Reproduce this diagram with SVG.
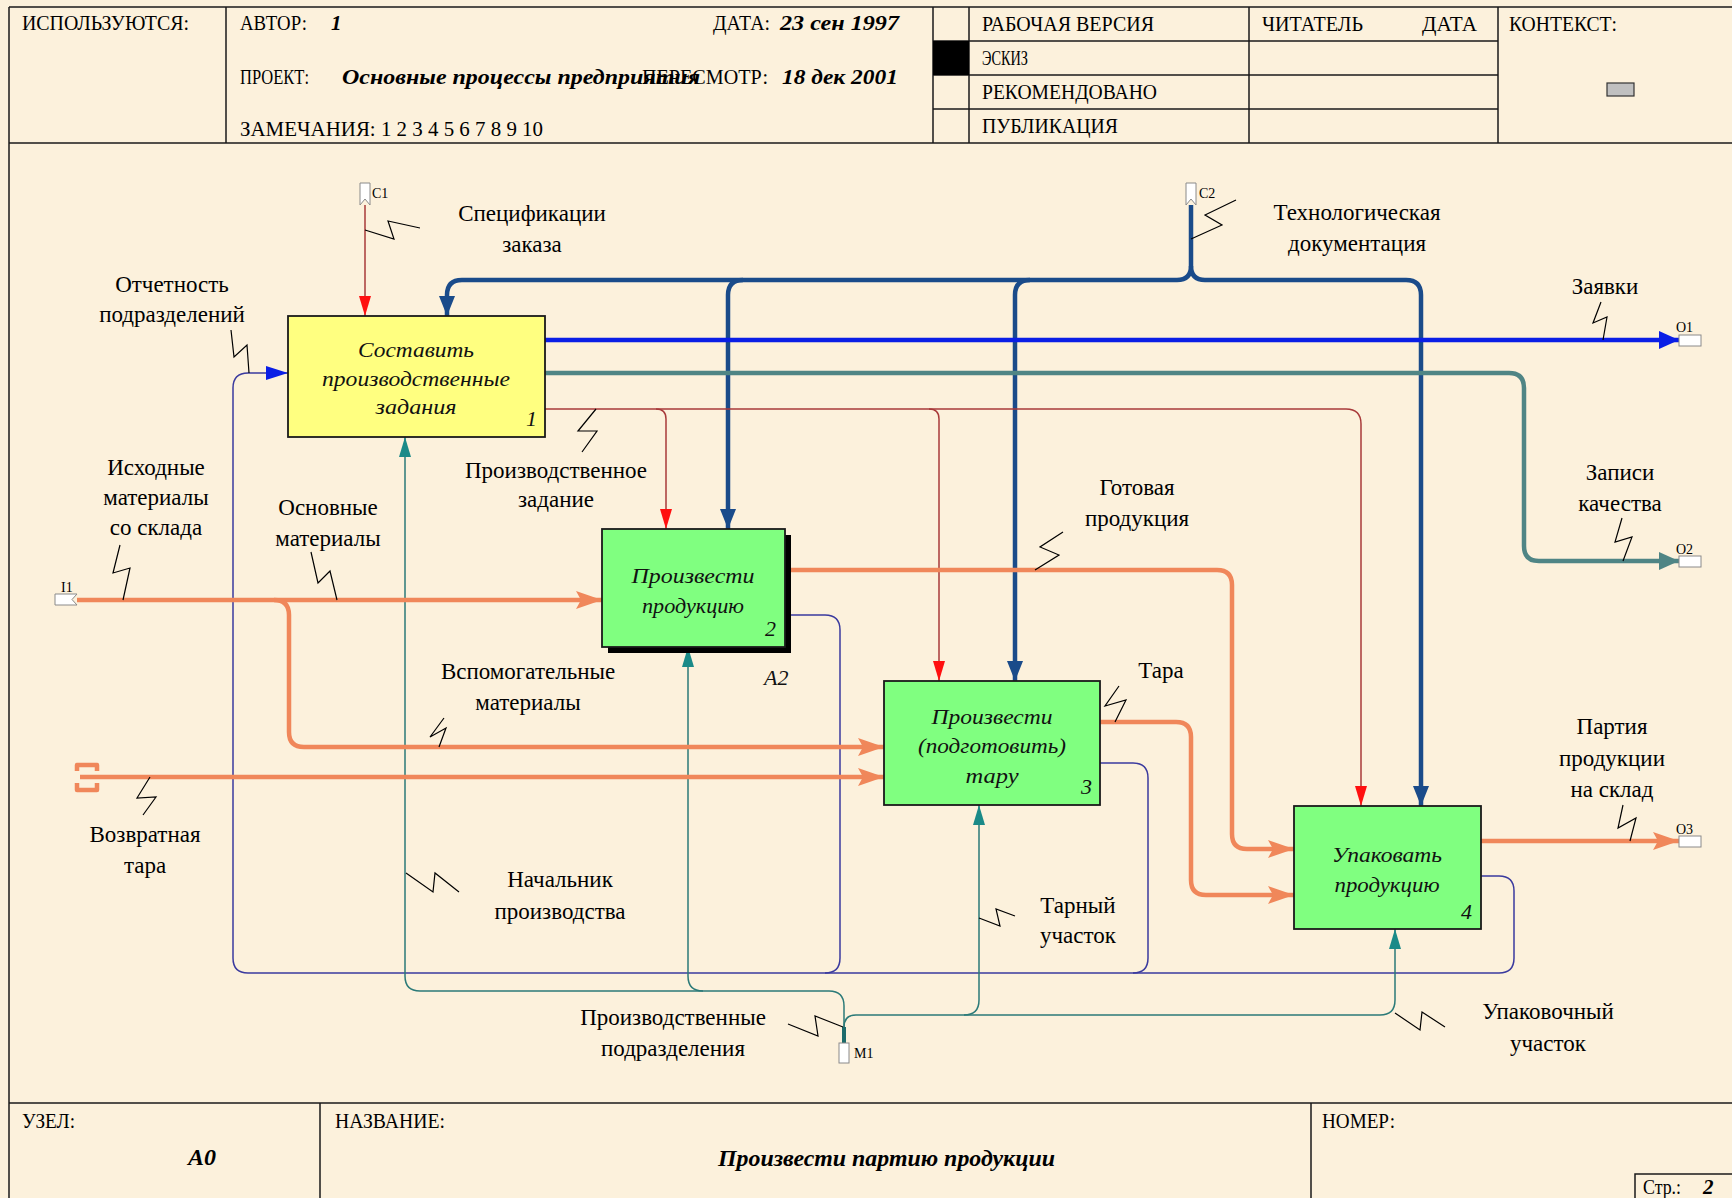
<svg xmlns="http://www.w3.org/2000/svg" width="1732" height="1198" viewBox="0 0 1732 1198">
<defs>
<style>
.hdr{font-family:"Liberation Serif","Times New Roman",serif;font-size:21px;fill:#000}
.bi{font-weight:bold;font-style:italic}
.lbl{font-family:"Liberation Serif","Times New Roman",serif;font-size:23px;text-anchor:middle;fill:#000}
.bt{font-family:"Liberation Serif","Times New Roman",serif;font-style:italic;font-size:22px;text-anchor:middle;fill:#111}
.num{font-family:"Liberation Serif","Times New Roman",serif;font-style:italic;font-size:22px;fill:#111}
.tag{font-family:"Liberation Serif","Times New Roman",serif;font-size:14px;fill:#000}
.frame{stroke:#1a1a1a;stroke-width:1.5;fill:none}
.sq{fill:none;stroke:#000;stroke-width:1.2}
.box{stroke:#1a1a1a;stroke-width:1.8}
.stub{fill:#fff;stroke:#8a8a8a;stroke-width:1}
.navy{fill:none;stroke:#1a4b8a;stroke-width:4.5}
.red{fill:none;stroke:#a83a3a;stroke-width:1.5}
.blue{fill:none;stroke:#0a1ee6;stroke-width:4.5}
.tealT{fill:none;stroke:#4f8585;stroke-width:4.5}
.orng{fill:none;stroke:#f0875a;stroke-width:4.5}
.fb{fill:none;stroke:#3a3a9e;stroke-width:1.5}
.mech{fill:none;stroke:#2b7a78;stroke-width:1.5}
</style>
<marker id="mRed" markerUnits="userSpaceOnUse" viewBox="0 0 20 12" refX="20" refY="6" markerWidth="20" markerHeight="12" orient="auto"><path d="M0,0 L20,6 L0,12 z" fill="#ff1010"/></marker>
<marker id="mNavy" markerUnits="userSpaceOnUse" viewBox="0 0 20 16" refX="20" refY="8" markerWidth="20" markerHeight="16" orient="auto"><path d="M0,0 L20,8 L0,16 z" fill="#1a4b8a"/></marker>
<marker id="mBlue" markerUnits="userSpaceOnUse" viewBox="0 0 20 18" refX="20" refY="9" markerWidth="20" markerHeight="18" orient="auto"><path d="M0,0 L20,9 L0,18 z" fill="#0a1ee6"/></marker>
<marker id="mBlueS" markerUnits="userSpaceOnUse" viewBox="0 0 22 14" refX="22" refY="7" markerWidth="22" markerHeight="14" orient="auto"><path d="M0,0 L22,7 L0,14 z" fill="#0a1ee6"/></marker>
<marker id="mTealT" markerUnits="userSpaceOnUse" viewBox="0 0 20 18" refX="20" refY="9" markerWidth="20" markerHeight="18" orient="auto"><path d="M0,0 L20,9 L0,18 z" fill="#4f8585"/></marker>
<marker id="mMech" markerUnits="userSpaceOnUse" viewBox="0 0 20 12" refX="20" refY="6" markerWidth="20" markerHeight="12" orient="auto"><path d="M0,0 L20,6 L0,12 z" fill="#1a8a88"/></marker>
<marker id="mOr" markerUnits="userSpaceOnUse" viewBox="0 0 26 18" refX="26" refY="9" markerWidth="26" markerHeight="18" orient="auto"><path d="M0,0 L26,9 L0,18 L5,9 z" fill="#f0875a"/></marker>
</defs>

<rect x="0" y="0" width="1732" height="1198" fill="#fcf1dc"/>

<g id="frame">
<path class="frame" d="M9,7 L1732,7 M9,7 L9,1198 M9,143 L1732,143 M9,1103 L1732,1103"/>
<path class="frame" d="M226,7 L226,143 M933,7 L933,143 M969,7 L969,143 M1249,7 L1249,143 M1498,7 L1498,143"/>
<path class="frame" d="M933,41 L1498,41 M933,75 L1498,75 M933,109 L1498,109"/>
<rect x="933" y="41" width="36" height="34" fill="#000"/>
<rect x="1607" y="83" width="27" height="13" fill="#c0c0c0" stroke="#333" stroke-width="1.2"/>
<path class="frame" d="M320,1103 L320,1198 M1311,1103 L1311,1198 M1635,1198 L1635,1174 L1732,1174"/>
<text class="hdr" x="22" y="30" textLength="167" lengthAdjust="spacingAndGlyphs">ИСПОЛЬЗУЮТСЯ:</text>
<text class="hdr" x="240" y="30" textLength="67" lengthAdjust="spacingAndGlyphs">АВТОР:</text>
<text class="hdr bi" x="331" y="30">1</text>
<text class="hdr" x="713" y="30" textLength="57" lengthAdjust="spacingAndGlyphs">ДАТА:</text>
<text class="hdr bi" x="780" y="30" textLength="119" lengthAdjust="spacingAndGlyphs">23 сен 1997</text>
<text class="hdr" x="240" y="84" textLength="69" lengthAdjust="spacingAndGlyphs">ПРОЕКТ:</text>
<text class="hdr" x="642" y="84" textLength="126" lengthAdjust="spacingAndGlyphs">ПЕРЕСМОТР:</text>
<text class="hdr bi" x="342" y="84" textLength="358" lengthAdjust="spacingAndGlyphs">Основные процессы предприятия</text>
<text class="hdr bi" x="782" y="84" textLength="116" lengthAdjust="spacingAndGlyphs">18 дек 2001</text>
<text class="hdr" x="240" y="136" textLength="303" lengthAdjust="spacingAndGlyphs">ЗАМЕЧАНИЯ: 1 2 3 4 5 6 7 8 9 10</text>
<text class="hdr" x="982" y="31" textLength="172" lengthAdjust="spacingAndGlyphs">РАБОЧАЯ ВЕРСИЯ</text>
<text class="hdr" x="982" y="65" textLength="46" lengthAdjust="spacingAndGlyphs">ЭСКИЗ</text>
<text class="hdr" x="982" y="99" textLength="175" lengthAdjust="spacingAndGlyphs">РЕКОМЕНДОВАНО</text>
<text class="hdr" x="982" y="133" textLength="136" lengthAdjust="spacingAndGlyphs">ПУБЛИКАЦИЯ</text>
<text class="hdr" x="1262" y="31" textLength="101" lengthAdjust="spacingAndGlyphs">ЧИТАТЕЛЬ</text>
<text class="hdr" x="1422" y="31" textLength="55" lengthAdjust="spacingAndGlyphs">ДАТА</text>
<text class="hdr" x="1509" y="31" textLength="108" lengthAdjust="spacingAndGlyphs">КОНТЕКСТ:</text>
<text class="hdr" x="22" y="1128" textLength="53" lengthAdjust="spacingAndGlyphs">УЗЕЛ:</text>
<text class="hdr bi" x="188" y="1165" style="font-size:24px">A0</text>
<text class="hdr" x="335" y="1128" textLength="110" lengthAdjust="spacingAndGlyphs">НАЗВАНИЕ:</text>
<text class="hdr bi" x="718" y="1166" textLength="337" lengthAdjust="spacingAndGlyphs" style="font-size:23px">Произвести партию продукции</text>
<text class="hdr" x="1322" y="1128" textLength="73" lengthAdjust="spacingAndGlyphs">НОМЕР:</text>
<text class="hdr" x="1643" y="1194" textLength="38" lengthAdjust="spacingAndGlyphs">Стр.:</text>
<text class="hdr bi" x="1703" y="1194">2</text>
</g>

<g id="connectors">
<!-- C1 -->
<path class="red" d="M365,205 L365,316" marker-end="url(#mRed)"/>
<!-- C2 -->
<path class="navy" d="M1191,205 L1191,266"/>
<path class="navy" d="M1191,266 Q1191,280 1177,280 L462,280 Q447,280 447,295 L447,316" marker-end="url(#mNavy)"/>
<path class="navy" d="M1191,266 Q1191,280 1205,280 L1406,280 Q1421,280 1421,295 L1421,806" marker-end="url(#mNavy)"/>
<path class="navy" d="M743,280 Q728,280 728,295 L728,529" marker-end="url(#mNavy)"/>
<path class="navy" d="M1030,280 Q1015,280 1015,295 L1015,681" marker-end="url(#mNavy)"/>
<!-- O1 -->
<path class="blue" d="M545,340 L1679,340" marker-end="url(#mBlue)"/>
<!-- O2 -->
<path class="tealT" d="M545,373 L1509,373 Q1524,373 1524,388 L1524,546 Q1524,561 1539,561 L1679,561" marker-end="url(#mTealT)"/>
<!-- production task -->
<path class="red" d="M545,409 L1346,409 Q1361,409 1361,424 L1361,806" marker-end="url(#mRed)"/>
<path class="red" d="M656,409 Q666,409 666,419 L666,529" marker-end="url(#mRed)"/>
<path class="red" d="M929,409 Q939,409 939,419 L939,681" marker-end="url(#mRed)"/>
<!-- feedback -->
<path class="fb" d="M785,615 L825,615 Q840,615 840,630 L840,958 Q840,973 825,973"/>
<path class="fb" d="M1100,763 L1133,763 Q1148,763 1148,778 L1148,958 Q1148,973 1133,973"/>
<path class="fb" d="M1481,876 L1499,876 Q1514,876 1514,891 L1514,958 Q1514,973 1499,973 L248,973 Q233,973 233,958 L233,388 Q233,373 248,373 L288,373" marker-end="url(#mBlueS)"/>
<!-- mechanisms -->
<path d="M844,1043 L844,1027" stroke="#1d6b6b" stroke-width="4" fill="none"/>
<path class="mech" d="M844,1027 L844,1006 Q844,991 829,991 L420,991 Q405,991 405,976 L405,437" marker-end="url(#mMech)"/>
<path class="mech" d="M703,991 Q688,991 688,976 L688,647" marker-end="url(#mMech)"/>
<path class="mech" d="M844,1027 Q844,1015 856,1015 L1380,1015 Q1395,1015 1395,1000 L1395,929" marker-end="url(#mMech)"/>
<path class="mech" d="M964,1015 Q979,1015 979,1000 L979,805" marker-end="url(#mMech)"/>
<!-- orange -->
<path class="orng" d="M77,600 L602,600" marker-end="url(#mOr)"/>
<path class="orng" d="M274,600 Q289,600 289,615 L289,732 Q289,747 304,747 L884,747" marker-end="url(#mOr)"/>
<path class="orng" d="M80,777 L884,777" marker-end="url(#mOr)"/>
<path class="orng" d="M77,771 L77,765 L97,765 L97,771 M77,783 L77,790 L97,790 L97,783" stroke-linejoin="round"/>
<path class="orng" d="M785,570 L1217,570 Q1232,570 1232,585 L1232,834 Q1232,849 1247,849 L1294,849" marker-end="url(#mOr)"/>
<path class="orng" d="M1100,722 L1176,722 Q1191,722 1191,737 L1191,880 Q1191,895 1206,895 L1294,895" marker-end="url(#mOr)"/>
<path class="orng" d="M1481,841 L1679,841" marker-end="url(#mOr)"/>
<!-- boundary stubs -->
<polygon class="stub" points="360,183 370,183 370,205 365,199 360,205"/>
<polygon class="stub" points="1186,183 1196,183 1196,205 1191,199 1186,205"/>
<polygon class="stub" points="55,594 77,594 72,599.5 77,605 55,605"/>
<rect class="stub" x="1679" y="335" width="22" height="11"/>
<rect class="stub" x="1679" y="556" width="22" height="11"/>
<rect class="stub" x="1679" y="836" width="22" height="11"/>
<rect class="stub" x="839" y="1043" width="10" height="20"/>
<text class="tag" x="372" y="198">C1</text>
<text class="tag" x="1199" y="198">C2</text>
<text class="tag" x="61" y="592">I1</text>
<text class="tag" x="1676" y="332">O1</text>
<text class="tag" x="1676" y="554">O2</text>
<text class="tag" x="1676" y="834">O3</text>
<text class="tag" x="854" y="1058">M1</text>
<!-- squiggles -->
<polyline class="sq" points="365,230 394,239 388,221 420,228"/>
<polyline class="sq" points="1191,239 1222,225 1205,215 1236,200"/>
<polyline class="sq" points="231,330 234,357 247,345 249,373"/>
<polyline class="sq" points="1601,302 1593,323 1607,317 1603,340"/>
<polyline class="sq" points="1622,518 1615,542 1632,537 1623,561"/>
<polyline class="sq" points="120,545 113,573 130,568 123,600"/>
<polyline class="sq" points="311,552 318,583 330,571 337,600"/>
<polyline class="sq" points="596,409 578,431 597,431 582,452"/>
<polyline class="sq" points="1063,532 1040,547 1059,555 1035,570"/>
<polyline class="sq" points="444,718 430,737 446,728 439,747"/>
<polyline class="sq" points="1119,686 1105,706 1126,700 1115,722"/>
<polyline class="sq" points="1623,805 1618,828 1636,818 1630,841"/>
<polyline class="sq" points="150,777 137,798 156,797 143,815"/>
<polyline class="sq" points="406,873 433,892 435,873 459,892"/>
<polyline class="sq" points="979,918 1000,926 996,909 1015,916"/>
<polyline class="sq" points="1395,1013 1420,1030 1422,1012 1445,1027"/>
<polyline class="sq" points="788,1024 818,1036 815,1016 843,1027"/>
<!-- labels -->
<text class="lbl" x="532" y="221">Спецификации</text>
<text class="lbl" x="532" y="252">заказа</text>
<text class="lbl" x="1357" y="220">Технологическая</text>
<text class="lbl" x="1357" y="251">документация</text>
<text class="lbl" x="172" y="292">Отчетность</text>
<text class="lbl" x="172" y="322">подразделений</text>
<text class="lbl" x="1605" y="294">Заявки</text>
<text class="lbl" x="1620" y="480">Записи</text>
<text class="lbl" x="1620" y="511">качества</text>
<text class="lbl" x="156" y="475">Исходные</text>
<text class="lbl" x="156" y="505">материалы</text>
<text class="lbl" x="156" y="535">со склада</text>
<text class="lbl" x="328" y="515">Основные</text>
<text class="lbl" x="328" y="546">материалы</text>
<text class="lbl" x="556" y="478">Производственное</text>
<text class="lbl" x="556" y="507">задание</text>
<text class="lbl" x="1137" y="495">Готовая</text>
<text class="lbl" x="1137" y="526">продукция</text>
<text class="lbl" x="528" y="679">Вспомогательные</text>
<text class="lbl" x="528" y="710">материалы</text>
<text class="lbl" x="1161" y="678">Тара</text>
<text class="lbl" x="1612" y="734">Партия</text>
<text class="lbl" x="1612" y="766">продукции</text>
<text class="lbl" x="1612" y="797">на склад</text>
<text class="lbl" x="145" y="842">Возвратная</text>
<text class="lbl" x="145" y="873">тара</text>
<text class="lbl" x="560" y="887">Начальник</text>
<text class="lbl" x="560" y="919">производства</text>
<text class="lbl" x="1078" y="913">Тарный</text>
<text class="lbl" x="1078" y="943">участок</text>
<text class="lbl" x="1548" y="1019">Упаковочный</text>
<text class="lbl" x="1548" y="1051">участок</text>
<text class="lbl" x="673" y="1025">Производственные</text>
<text class="lbl" x="673" y="1056">подразделения</text>
</g>

<g id="node1">
<rect class="box" x="288" y="316" width="257" height="121" fill="#ffff80"/>
<text class="bt" x="416" y="357" textLength="116" lengthAdjust="spacingAndGlyphs">Составить</text>
<text class="bt" x="416" y="386" textLength="188" lengthAdjust="spacingAndGlyphs">производственные</text>
<text class="bt" x="416" y="414" textLength="81" lengthAdjust="spacingAndGlyphs">задания</text>
<text class="num" x="526" y="426">1</text>
</g>
<g id="node2">
<rect x="608" y="535" width="183" height="118" fill="#000"/>
<rect class="box" x="602" y="529" width="183" height="118" fill="#80ff80"/>
<text class="bt" x="693" y="583" textLength="123" lengthAdjust="spacingAndGlyphs">Произвести</text>
<text class="bt" x="693" y="613" textLength="102" lengthAdjust="spacingAndGlyphs">продукцию</text>
<text class="num" x="765" y="636">2</text>
<text class="num" x="764" y="685">A2</text>
</g>
<g id="node3">
<rect class="box" x="884" y="681" width="216" height="124" fill="#80ff80"/>
<text class="bt" x="992" y="724" textLength="121" lengthAdjust="spacingAndGlyphs">Произвести</text>
<text class="bt" x="992" y="753" textLength="148" lengthAdjust="spacingAndGlyphs">(подготовить)</text>
<text class="bt" x="992" y="783" textLength="53" lengthAdjust="spacingAndGlyphs">тару</text>
<text class="num" x="1081" y="794">3</text>
</g>
<g id="node4">
<rect class="box" x="1294" y="806" width="187" height="123" fill="#80ff80"/>
<text class="bt" x="1387" y="862" textLength="110" lengthAdjust="spacingAndGlyphs">Упаковать</text>
<text class="bt" x="1387" y="892" textLength="105" lengthAdjust="spacingAndGlyphs">продукцию</text>
<text class="num" x="1461" y="919">4</text>
</g>
</svg>
